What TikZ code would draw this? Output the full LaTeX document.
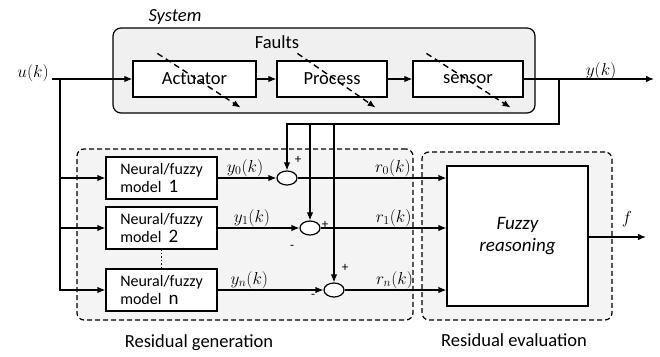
\documentclass[tikz,border=0pt]{standalone}
\usepackage{amsmath}
\usepackage{fontspec}
\setmainfont{Carlito}
\usetikzlibrary{shapes.geometric,arrows.meta}

\begin{document}
\begin{tikzpicture}[x=1pt,y=-1pt,>={Latex[length=8pt,width=6.5pt]},
			line width=1.2pt,
			block/.style={draw,fill=white,font=\fontsize{18.5}{21}\selectfont,minimum height=36pt},
			model node/.style={draw,fill=white,align=left,font=\fontsize{16}{18.5}\selectfont,minimum width=111pt,minimum height=42pt},
			sum node/.style={ellipse,draw,fill=white,minimum width=20pt,minimum height=14pt,inner sep=0pt},
			group box/.style={draw,dash pattern=on 5pt off 3pt,rounded corners=7pt,fill=gray!9},
			fault/.style={->,dash pattern=on 6pt off 4pt,line width=1.4pt},
			lbl/.style={font=\fontsize{18.5}{21}\selectfont,inner sep=1pt},
			sgn/.style={font=\fontsize{13}{14}\selectfont,inner sep=0pt}
			]
			
			\useasboundingbox (0,0) rectangle (660,356);
			
			% system
			\node[draw,rounded corners=8pt,fill=gray!12,minimum width=422pt,minimum height=85pt] (sys) at (324,70.5) {};
			\node[lbl,font=\fontsize{18.5}{21}\selectfont\itshape] (systxt) at (175,17) {System};
			\node[lbl] (faults) at (277,42) {Faults};
			
			\node[block,minimum width=123pt] (act) at (194.5,79) {Actuator};
			\node[block,minimum width=110pt] (proc) at (332,79) {Process};
			\node[block,minimum width=110pt] (sens) at (468,79) {sensor};
			
			\foreach \b/\dx/\ex in {act/25/-16,proc/21/-12,sens/14/-13} {
				\draw[fault] ([shift={(\dx,-7)}]\b.north west) -- ([shift={(\ex,10)}]\b.south east);
			}
			
			% input / output
			\node[lbl] (u) at (33,73) {$u(k)$};
			\coordinate (ustart) at (52,79);
			\coordinate (ub) at (60,79);
			\node[lbl] (y) at (601,71) {$y(k)$};
			\coordinate (yb) at (559,79);
			\coordinate (yend) at (654,79);
			
			\draw[->] (ustart) -- (act);
			\draw[->] (act) -- (proc);
			\draw[->] (proc) -- (sens);
			\draw[->] (sens) -- (yend);
			
			% residual generation
			\node[group box,minimum width=336pt,minimum height=171pt] (resgen) at (245,234.5) {};
			\node[group box,minimum width=190pt,minimum height=168pt] (reseval) at (517,236) {};
			\node[lbl] (gentxt) at (199,343) {Residual generation};
			\node[lbl] (evaltxt) at (514,340) {Residual evaluation};
			
			\node[model node] (m1) at (161.5,178) {Neural/fuzzy\\model\ \ {\fontsize{19}{19}\selectfont 1}};
			\node[model node] (m2) at (161.5,228) {Neural/fuzzy\\model\ \ {\fontsize{19}{19}\selectfont 2}};
			\node[model node] (mn) at (161.5,290) {Neural/fuzzy\\model\ \ {\fontsize{19}{19}\selectfont n}};
			\draw[dotted,line width=1.4pt] (m2.south) -- (mn.north);
			
			\node[sum node] (s0) at (287,178) {};
			\node[sum node] (s1) at (310,228) {};
			\node[sum node] (sn) at (334,290) {};
			
			\node[draw,fill=white,minimum width=141pt,minimum height=140pt,align=center,
				font=\fontsize{19}{22}\selectfont\itshape] (fuzzy) at (517.5,236) {Fuzzy\\reasoning};
			\coordinate (fend) at (646,237);
			\node[lbl] (f) at (627,219) {$f$};
			
			\draw[->] (ub) |- (m1.west);
			\draw[->] (ub) |- (m2.west);
			\draw[->] (ub) |- (mn.west);
			
			% feedback of y(k)
			\coordinate (fb0) at (287,124);
			\coordinate (fb1) at (310,124);
			\coordinate (fbn) at (334,124);
			\draw[->] (yb) |- (fb0) -- (s0.north);
			\draw[->] (fb1) -- (s1.north);
			\draw[->] (fbn) -- (sn.north);
			
			\draw[->] (m1) -- (s0) node[lbl,midway,above,xshift=-2pt] {$y_0(k)$};
			\draw[->] (m2) -- (s1) node[lbl,pos=0.42,above] {$y_1(k)$};
			\draw[->] (mn) -- (sn) node[lbl,pos=0.3,above] {$y_n(k)$};
			
			\draw[->] (s0) -- (fuzzy.west |- s0) node[lbl,pos=0.64,above] {$r_0(k)$};
			\draw[->] (s1) -- (fuzzy.west |- s1) node[lbl,pos=0.58,above] {$r_1(k)$};
			\draw[->] (sn) -- (fuzzy.west |- sn) node[lbl,pos=0.49,above] {$r_n(k)$};
			\draw[->] (fuzzy.east |- fend) -- (fend);
			
			% signs
			\node[sgn] (p0) at (298,160) {+};
			\node[sgn] (p1) at (325,225) {+};
			\node[sgn] (n1) at (292,247) {-};
			\node[sgn] (pn) at (345,268) {+};
			\node[sgn] (nn) at (313,296) {-};
			
		\end{tikzpicture}
\end{document}
